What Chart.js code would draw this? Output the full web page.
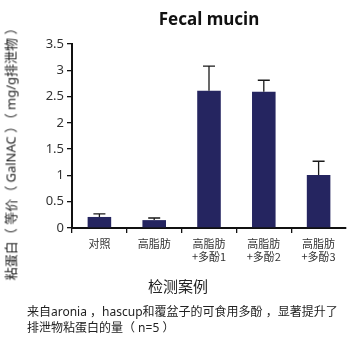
<!DOCTYPE html>
<html>
<head>
<meta charset="utf-8">
<script src="https://cdn.jsdelivr.net/npm/chart.js@4"></script>
<style>
  body { margin: 0; background: #fff; }
  #wrap { position: relative; width: 353px; height: 355px; font-family: "Noto Sans", "Noto Sans CJK SC", sans-serif; color: #222; }
  #chart { position: absolute; left: 0; top: 0; }
  .ytitle { position: absolute; left: 10px; top: 151px; font-size: 13px; white-space: pre;
            transform: translate(-50%, -50%) rotate(-90deg); }
  .xtitle { position: absolute; left: 178px; top: 285px; font-size: 15px; transform: translate(-50%, -50%); white-space: nowrap; }
  .caption { position: absolute; left: 27px; top: 304px; font-size: 12px; line-height: 16px; white-space: pre; }
</style>
</head>
<body>
<div id="wrap">
  <canvas id="chart" width="353" height="355"></canvas>
  <div class="ytitle">粘蛋白（ 等价（ GalNAC ）（ mg/g排泄物 ）</div>
  <div class="xtitle">检测案例</div>
  <div class="caption">来自aronia ，hascup和覆盆子的可食用多酚 ，显著提升了
排泄物粘蛋白的量（ n=5 ）</div>
</div>
<script>
var categories = [['对照'], ['高脂肪'], ['高脂肪', '+多酚1'], ['高脂肪', '+多酚2'], ['高脂肪', '+多酚3']];
var mucin = [0.21, 0.15, 2.61, 2.59, 1.01];
var errUpper = [0.27, 0.19, 3.08, 2.81, 1.27];
var yTicks = [0, 0.5, 1, 1.5, 2, 2.5, 3, 3.5];

// draws the upper error whisker with a cap on each bar
var errorBars = {
    id: 'errorBars',
    afterDatasetsDraw: function(chart) {
        var ctx = chart.ctx;
        var y = chart.scales.y;
        var meta = chart.getDatasetMeta(0);
        ctx.save();
        ctx.strokeStyle = '#1a1a1a';
        ctx.lineWidth = 1.3;
        meta.data.forEach(function(bar, i) {
            var top = y.getPixelForValue(errUpper[i]);
            ctx.beginPath();
            ctx.moveTo(bar.x, bar.y);
            ctx.lineTo(bar.x, top);
            ctx.moveTo(bar.x - 6, top);
            ctx.lineTo(bar.x + 6, top);
            ctx.stroke();
        });
        ctx.restore();
    }
};

var chart = new Chart(document.getElementById('chart'), {
    type: 'bar',
    data: {
        labels: categories,
        datasets: [{
            data: mucin,
            backgroundColor: '#252560',
            borderWidth: 0,
            barPercentage: 0.43,
            categoryPercentage: 1.0
        }]
    },
    options: {
        responsive: false,
        animation: false,
        layout: { padding: { left: 0, right: 7, top: 0, bottom: 0 } },
        plugins: {
            legend: { display: false },
            tooltip: { enabled: false },
            title: {
                display: true,
                text: 'Fecal mucin',
                fullSize: false,
                color: '#111',
                font: { family: 'Noto Sans', size: 17, weight: 'bold', lineHeight: 1.2 },
                padding: { top: 10, bottom: 13.6 }
            }
        },
        scales: {
            x: {
                grid: {
                    drawOnChartArea: false,
                    tickLength: 5,
                    lineWidth: 1.3,
                    color: function(c) { return c.type === 'tick' ? '#111' : 'rgba(0,0,0,0)'; }
                },
                border: { color: '#111', width: 2 },
                ticks: {
                    color: '#333',
                    padding: 4,
                    maxRotation: 0,
                    autoSkip: false,
                    font: { family: 'Noto Sans CJK SC', size: 11, lineHeight: 1.2 }
                },
                afterFit: function(scale) { scale.width = scale.width; scale.height = 127; }
            },
            y: {
                min: 0,
                max: 3.5,
                afterBuildTicks: function(scale) {
                    scale.ticks = yTicks.map(function(v) { return { value: v }; });
                },
                grid: {
                    drawOnChartArea: false,
                    tickLength: 5,
                    lineWidth: 1.3,
                    color: '#111'
                },
                border: { color: '#111', width: 2 },
                ticks: {
                    color: '#333',
                    padding: 3,
                    font: { family: 'Noto Sans', size: 13 },
                    callback: function(v) { return String(v); }
                },
                afterFit: function(scale) { scale.width = 72; }
            }
        }
    },
    plugins: [errorBars]
});
</script>
</body>
</html>
